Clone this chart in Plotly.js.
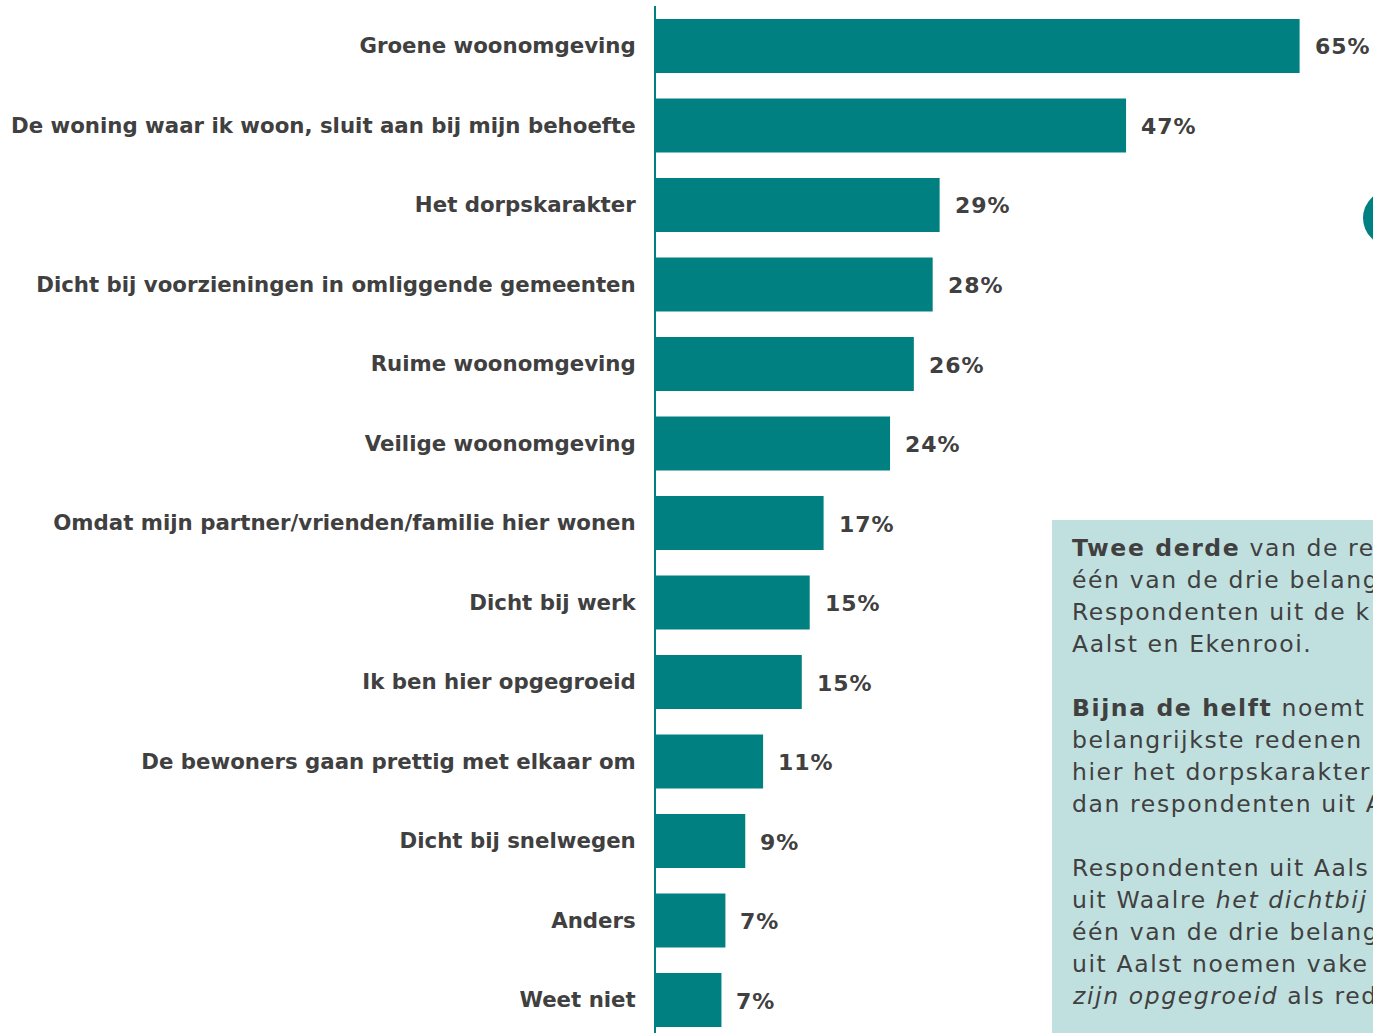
<!DOCTYPE html>
<html>
<head>
<meta charset="utf-8">
<script src="https://cdn.plot.ly/plotly-3.0.1.min.js"></script>
<style>
  html, body { margin: 0; padding: 0; background: #ffffff; }
  #chart { width: 1373px; height: 1033px; }
</style>
</head>
<body>
<div id="chart"></div>
<script>
// ---- data ----
const categories = [
  "Groene woonomgeving",
  "De woning waar ik woon, sluit aan bij mijn behoefte",
  "Het dorpskarakter",
  "Dicht bij voorzieningen in omliggende gemeenten",
  "Ruime woonomgeving",
  "Veilige woonomgeving",
  "Omdat mijn partner/vrienden/familie hier wonen",
  "Dicht bij werk",
  "Ik ben hier opgegroeid",
  "De bewoners gaan prettig met elkaar om",
  "Dicht bij snelwegen",
  "Anders",
  "Weet niet"
];
const values = [64.9, 47.4, 28.6, 27.9, 26.0, 23.6, 16.9, 15.5, 14.7, 10.8, 9.0, 7.0, 6.6];
const valueLabels = ["65%", "47%", "29%", "28%", "26%", "24%", "17%", "15%", "15%", "11%", "9%", "7%", "7%"];

const noteLines = [
  "<b>Twee derde</b> van de re",
  "één van de drie belang",
  "Respondenten uit de k",
  "Aalst en Ekenrooi.",
  "",
  "<b>Bijna de helft</b> noemt",
  "belangrijkste redenen",
  "hier het dorpskarakter",
  "dan respondenten uit A",
  "",
  "Respondenten uit Aals",
  "uit Waalre <i>het dichtbij</i>",
  "één van de drie belang",
  "uit Aalst noemen vake",
  "<i>zijn opgegroeid</i> als red"
];

// ---- layout helpers (pixel -> paper) ----
const FIG_W = 1373, FIG_H = 1033;
const M = { l: 656, r: 0, t: 6, b: 0 };
const PW = FIG_W - M.l - M.r, PH = FIG_H - M.t - M.b;
const px = x => (x - M.l) / PW;
const py = y => (M.t + PH - y) / PH;

const TEAL = "#008080";
const TXT = "#404040";
const FONT = "DejaVu Sans, Verdana, sans-serif";

const trace = {
  type: "bar",
  orientation: "h",
  y: categories,
  x: values,
  width: 0.68,
  marker: { color: TEAL, line: { width: 0 } },
  hoverinfo: "skip"
};

const annotations = values.map((v, i) => ({
  x: v, y: categories[i], xref: "x", yref: "y",
  text: valueLabels[i], showarrow: false, align: "left",
  xanchor: "left", yanchor: "middle", xshift: 13, yshift: -1,
  font: { family: FONT, size: 22, color: TXT, weight: "bold" }
}));
const nValueAnn = annotations.length;

noteLines.forEach((t, i) => {
  if (!t) return;
  annotations.push({
    x: px(1070), y: py(548 + i * 32), xref: "paper", yref: "paper",
    text: t, showarrow: false, align: "left", xanchor: "left", yanchor: "middle",
    font: { family: FONT, size: 23.5, color: TXT }
  });
});

const layout = {
  width: FIG_W, height: FIG_H,
  margin: M,
  paper_bgcolor: "#ffffff", plot_bgcolor: "rgba(0,0,0,0)",
  showlegend: false,
  xaxis: {
    range: [0, 72.3], visible: false, fixedrange: true
  },
  yaxis: {
    type: "category",
    range: [12.415, -0.503],
    showline: true, linecolor: TEAL, linewidth: 2,
    showgrid: false, zeroline: false, ticks: "",
    ticklabelstandoff: 14,
    tickfont: { family: FONT, size: 21.3, color: TXT, weight: "bold" },
    fixedrange: true
  },
  shapes: [
    { type: "rect", xref: "paper", yref: "paper",
      x0: px(1052), x1: px(1400), y0: py(520), y1: py(1040),
      fillcolor: "#c0e0df", line: { width: 0 }, layer: "below" },
    { type: "circle", xref: "paper", yref: "paper",
      x0: px(1363), x1: px(1419), y0: py(190), y1: py(246),
      fillcolor: TEAL, line: { width: 0 } }
  ],
  annotations: annotations
};

Plotly.newPlot("chart", [trace], layout, { staticPlot: true, displayModeBar: false }).then(() => {
  document.querySelectorAll("#chart g.annotation").forEach(g => {
    const idx = parseInt(g.getAttribute("data-index"), 10);
    const txt = g.querySelector("text.annotation-text");
    if (!txt) return;
    txt.style.letterSpacing = idx >= nValueAnn ? "1.6px" : "1px";
  });
});
</script>
</body>
</html>
